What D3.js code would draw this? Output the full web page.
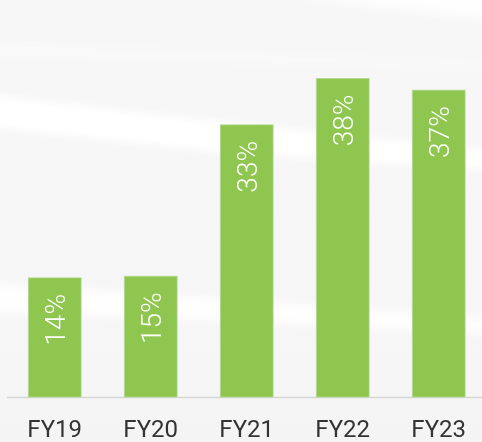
<!DOCTYPE html>
<html>
<head>
<meta charset="utf-8">
<script src="https://cdn.jsdelivr.net/npm/d3@7"></script>
<style>
html,body{margin:0;padding:0;background:#f6f6f6;}
svg{display:block;}
</style>
</head>
<body>
<svg id="chart" width="482" height="442"></svg>
<script>
const categories = ["FY19", "FY20", "FY21", "FY22", "FY23"];
const values = [14.4, 14.6, 32.9, 38.5, 37.1];
const valueLabels = ["14%", "15%", "33%", "38%", "37%"];

const W = 482, H = 442;
const svg = d3.select("#chart");

// background
const defs = svg.append("defs");
const blur = defs.append("filter").attr("id", "blur").attr("x", "-20%").attr("y", "-50%").attr("width", "140%").attr("height", "200%");
blur.append("feGaussianBlur").attr("stdDeviation", 4);
const bg = defs.append("linearGradient").attr("id", "bg").attr("x1", 0).attr("y1", 0).attr("x2", 0).attr("y2", 1);
bg.append("stop").attr("offset", "0").attr("stop-color", "#f7f7f7");
bg.append("stop").attr("offset", "0.85").attr("stop-color", "#f6f6f6");
bg.append("stop").attr("offset", "1").attr("stop-color", "#f4f4f4");
svg.append("rect").attr("width", W).attr("height", H).attr("fill", "url(#bg)");

const streaks = svg.append("g").attr("filter", "url(#blur)").attr("fill", "#ffffff");
streaks.append("path").attr("d", "M-20,94 L220,122 L490,150 L490,170 L220,152 L-20,126 Z").attr("opacity", 1);
streaks.append("path").attr("d", "M250,-10 L490,-10 L490,20 L380,8 Z").attr("opacity", 0.8);
streaks.append("path").attr("d", "M-20,282 L250,300 L490,318 L490,334 L250,322 L-20,312 Z").attr("opacity", 0.85);
streaks.append("path").attr("d", "M-20,40 L490,60 L490,72 L-20,58 Z").attr("opacity", 0.25);

const x = d3.scaleBand()
  .domain(categories)
  .range([6.7, 486.7])
  .paddingInner(0.45)
  .paddingOuter(0.225);

const y = d3.scaleLinear()
  .domain([0, 48])
  .range([397, 0]);

const data = categories.map((c, i) => ({c, v: values[i], label: valueLabels[i]}));

// axis line
svg.append("line")
  .attr("x1", 7).attr("x2", W)
  .attr("y1", y(0) + 0.5).attr("y2", y(0) + 0.5)
  .attr("stroke", "#d6d6d6").attr("stroke-width", 1.5);

// bars
svg.append("g").selectAll("rect")
  .data(data).join("rect")
  .attr("x", d => x(d.c))
  .attr("y", d => y(d.v))
  .attr("width", x.bandwidth())
  .attr("height", d => y(0) - y(d.v))
  .attr("fill", "#8fc64f")
  .attr("stroke", "#b2d98a")
  .attr("stroke-width", 0.8);

// value labels
svg.append("g").selectAll("text")
  .data(data).join("text")
  .attr("transform", d => `translate(${x(d.c) + x.bandwidth() / 2},${y(d.v) + 16}) rotate(-90)`)
  .attr("text-anchor", "end")
  .attr("dy", "0.36em")
  .attr("fill", "#ffffff")
  .style("font-family", "Roboto, 'Open Sans', sans-serif")
  .style("font-weight", 300)
  .style("font-size", "28px")
  .text(d => d.label);

// category axis labels
const xAxis = d3.axisBottom(x).tickSize(0).tickPadding(0);
const ax = svg.append("g").attr("transform", `translate(0,${y(0)})`).call(xAxis);
ax.select(".domain").remove();
ax.selectAll("text")
  .attr("y", 40)
  .attr("dy", 0)
  .attr("fill", "#333333")
  .style("font-family", "Roboto, 'Liberation Sans', sans-serif")
  .style("font-size", "24px");
</script>
</body>
</html>
